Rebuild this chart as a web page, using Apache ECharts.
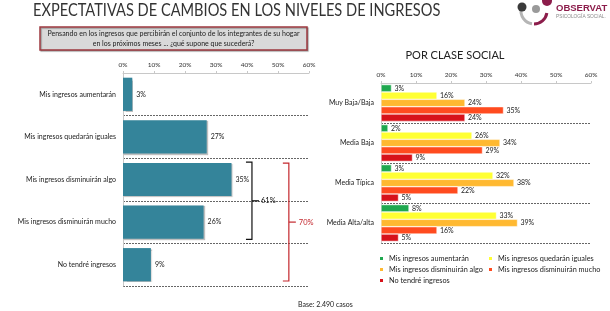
<!DOCTYPE html>
<html>
<head>
<meta charset="utf-8">
<script src="https://cdn.jsdelivr.net/npm/echarts@6/dist/echarts.min.js"></script>
<style>
  html, body { margin: 0; padding: 0; background: #fff; }
  #chart { width: 610px; height: 311px; }
</style>
</head>
<body>
<div id="chart"></div>
<script>
// datos
const respuestas = ['Mis ingresos aumentarán', 'Mis ingresos quedarán iguales', 'Mis ingresos disminuirán algo', 'Mis ingresos disminuirán mucho', 'No tendré ingresos'];
const totalValores = [3, 27, 35, 26, 9];
const clases = ['Muy Baja/Baja', 'Media Baja', 'Media Típica', 'Media Alta/alta'];
const aumentaran = [3, 2, 3, 8];
const iguales = [16, 26, 32, 33];
const algo = [24, 34, 38, 39];
const mucho = [35, 29, 22, 16];
const sinIngresos = [24, 9, 5, 5];
const ticksPct = [0, 10, 20, 30, 40, 50, 60];

const FONT = 'Lato';
const coloresClase = ['#1fa84f', '#ffff33', '#ffb931', '#ff4b1f', '#d7121b'];
const seriesClase = [aumentaran, iguales, algo, mucho, sinIngresos];

const chart = echarts.init(document.getElementById('chart'));

function pctAxis(grid) {
  return {
    type: 'value', gridIndex: grid, position: 'top',
    min: ticksPct[0], max: ticksPct[ticksPct.length - 1], interval: 10,
    axisLine: { show: true, lineStyle: { color: '#c8c8c8' } },
    axisTick: { show: true, length: 2, lineStyle: { color: '#c8c8c8' } },
    splitLine: { show: false },
    axisLabel: { formatter: '{value}%', fontSize: 6.5, color: '#333', fontFamily: FONT, margin: 5 }
  };
}
function catAxis(grid, data) {
  return {
    type: 'category', gridIndex: grid, inverse: true, data: data,
    axisLine: { show: true, lineStyle: { color: '#c8c8c8' } },
    axisTick: { show: false },
    splitLine: { show: true, interval: 0, lineStyle: { color: '#666', type: [2, 1], width: 1 } },
    axisLabel: { fontSize: 7, color: '#222', fontFamily: FONT, margin: 7, interval: 0 }
  };
}

const labelPct = { show: true, position: 'right', formatter: '{c}%', fontSize: 7, color: '#222', fontFamily: FONT, distance: 4 };

const series = [{
  type: 'bar', xAxisIndex: 0, yAxisIndex: 0, data: totalValores,
  barCategoryGap: '22%',
  itemStyle: { color: '#34849a', shadowColor: 'rgba(0,0,0,0.25)', shadowOffsetX: 1, shadowOffsetY: 1, shadowBlur: 1 },
  label: labelPct
}];
seriesClase.forEach(function (vals, i) {
  series.push({
    type: 'bar', name: respuestas[i], xAxisIndex: 1, yAxisIndex: 1, data: vals,
    barGap: '0%', barCategoryGap: '8%',
    itemStyle: { color: coloresClase[i], borderColor: '#fff', borderWidth: 0.5 },
    label: Object.assign({}, labelPct, { distance: 3 })
  });
});

const legendBase = {
  orient: 'vertical', itemWidth: 5, itemHeight: 5, itemGap: 4, icon: 'rect',
  textStyle: { fontSize: 7.3, color: '#222', fontFamily: FONT }, padding: 0, selectedMode: false
};

chart.setOption({
  animation: false,
  textStyle: { fontFamily: FONT },
  title: [
    { text: 'POR CLASE SOCIAL', left: 450, textAlign: 'center', top: 45,
      textStyle: { fontSize: 11, fontWeight: 'normal', color: '#222', fontFamily: FONT } },
    { text: 'Base: 2.490 casos', left: 293, top: 296,
      textStyle: { fontSize: 7, fontWeight: 'normal', color: '#222', fontFamily: FONT } }
  ],
  grid: [
    { left: 123, top: 73, width: 186, height: 213 },
    { left: 381, top: 83, width: 210, height: 160 }
  ],
  xAxis: [pctAxis(0), pctAxis(1)],
  yAxis: [catAxis(0, respuestas), catAxis(1, clases)],
  legend: [
    Object.assign({}, legendBase, { left: 378, top: 255, data: [respuestas[0], respuestas[2], respuestas[4]] }),
    Object.assign({}, legendBase, { left: 487, top: 255, data: [respuestas[1], respuestas[3]] })
  ],
  series: series
});

// llaves de agrupación y elementos fijos
function px(v, idx) { return chart.convertToPixel({ gridIndex: 0 }, [v, idx]); }
const banda = px(0, 1)[1] - px(0, 0)[1];

function llave(x, i0, i1, inset, color, texto, textoDx) {
  const top = px(0, i0)[1] - banda / 2 + inset;
  const bot = px(0, i1)[1] + banda / 2 - inset;
  const mid = (top + bot) / 2;
  return [
    { type: 'polyline', shape: { points: [[x - 6, top], [x, top], [x, bot], [x - 6, bot]] },
      style: { stroke: color, lineWidth: 1.2, fill: null } },
    { type: 'line', shape: { x1: x, y1: mid, x2: x + 7, y2: mid }, style: { stroke: color, lineWidth: 1.2 } },
    { type: 'text', x: x + textoDx, y: mid, style: { text: texto, fill: color, fontSize: 7.5, fontFamily: FONT, verticalAlign: 'middle' } }
  ];
}
const sum = function (a) { return a.reduce(function (s, v) { return s + v; }, 0); };
const xNegra = px(41.6, 0)[0];
const xRoja = px(53.5, 0)[0];

const graphic = [
  { type: 'text', x: 33, y: 2, scaleX: 0.86,
    style: { text: 'EXPECTATIVAS DE CAMBIOS EN LOS NIVELES DE INGRESOS', fill: '#333', fontSize: 17, fontFamily: FONT } },
  { type: 'rect', shape: { x: 40, y: 27, width: 267, height: 23 },
    style: { fill: '#d9d9d9', stroke: '#9e3a40', lineWidth: 1.5, shadowColor: 'rgba(0,0,0,0.3)', shadowOffsetX: 1, shadowOffsetY: 1, shadowBlur: 1 } },
  { type: 'text', x: 173.5, y: 38.5,
    style: { text: 'Pensando en los ingresos que percibirán el conjunto de los integrantes de su hogar\nen los próximos meses ... ¿qué supone que sucederá?',
      fill: '#222', fontSize: 7, fontFamily: FONT, align: 'center', verticalAlign: 'middle', lineHeight: 10 } },
  // logo
  { type: 'arc', shape: { cx: 534, cy: 11, r: 13, startAngle: Math.PI * 0.55, endAngle: Math.PI * 1.05 },
    style: { stroke: '#b5b5b5', lineWidth: 3, fill: null } },
  { type: 'arc', shape: { cx: 534, cy: 11, r: 13, startAngle: Math.PI * 0.05, endAngle: Math.PI * 0.5 },
    style: { stroke: '#8c1d4b', lineWidth: 3, fill: null } },
  { type: 'circle', shape: { cx: 522, cy: 7, r: 4.5 }, style: { fill: '#3a3a3a' } },
  { type: 'circle', shape: { cx: 536, cy: 9, r: 4 }, style: { fill: '#9a9a9a' } },
  { type: 'circle', shape: { cx: 547, cy: 1, r: 5 }, style: { fill: '#8c1d4b' } },
  { type: 'text', x: 556, y: 3, style: { text: 'OBSERVAT', fill: '#8c1d4b', fontSize: 9.5, fontWeight: 'bold', fontFamily: 'Liberation Sans' } },
  { type: 'text', x: 556, y: 14, style: { text: 'PSICOLOGÍA SOCIAL.', fill: '#8a8a8a', fontSize: 4.8, fontFamily: 'Liberation Sans' } }
]
  .concat(llave(xNegra, 2, 3, 4, '#111', sum(totalValores.slice(2, 4)) + '%', 9))
  .concat(llave(xRoja, 2, 4, 5, '#c3272d', sum(totalValores.slice(2, 5)) + '%', 10));

chart.setOption({ graphic: graphic });
</script>
</body>
</html>
